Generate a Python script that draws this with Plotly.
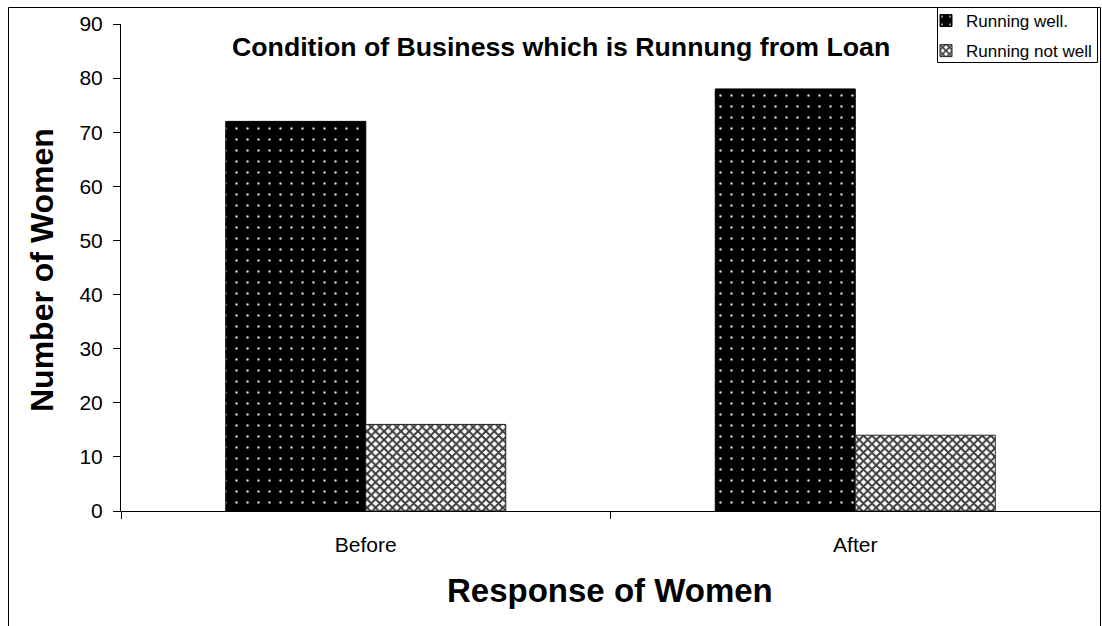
import plotly.graph_objects as go

# Survey counts: condition of the business run from the loan
categories = ["Before", "After"]
running_well = [72, 78]
running_not_well = [16, 14]
series_names = ["Running well.", "Running not well"]
y_ticks = list(range(0, 91, 10))

W, H = 1102, 626
L, R, T, B = 121, 2, 24, 115
PW, PH = W - L - R, H - T - B


def px_x(x):
    return (x - L) / PW


def px_y(y):
    return (H - B - y) / PH


FONT = "Arial, Liberation Sans, sans-serif"

fig = go.Figure()
fig.add_trace(go.Bar(
    x=categories, y=running_well, name=series_names[0], legendgroup="a",
    marker=dict(color="black", line=dict(color="black", width=1),
                pattern=dict(shape=".", bgcolor="black", fgcolor="#d0d0d0",
                             size=11, solidity=0.04, fillmode="replace")),
))
fig.add_trace(go.Bar(
    x=categories, y=running_not_well, name=series_names[1], legendgroup="b",
    marker=dict(color="white", line=dict(color="#222", width=1),
                pattern=dict(shape="x", bgcolor="white", fgcolor="#3a3a3a",
                             size=6, solidity=0.55, fillmode="replace")),
))

fig.update_layout(
    width=W, height=H,
    margin=dict(l=L, r=R, t=T, b=B, pad=0),
    paper_bgcolor="white", plot_bgcolor="white",
    font=dict(family=FONT, color="black"),
    barmode="group", bargap=0.428, bargroupgap=0,
    showlegend=True,
    legend=dict(
        x=px_x(926), y=px_y(3), xanchor="left", yanchor="top",
        bgcolor="rgba(0,0,0,0)", borderwidth=0,
        font=dict(size=17, family=FONT), tracegroupgap=5,
    ),
    xaxis=dict(
        type="category", showline=True, linecolor="black", linewidth=1,
        ticks="outside", tickson="boundaries", ticklen=7, tickcolor="black",
        tickfont=dict(size=21), showgrid=False, zeroline=False,
        ticklabelstandoff=15,
    ),
    yaxis=dict(
        range=[0, 90], tickvals=y_ticks, showline=True, linecolor="black",
        linewidth=1, ticks="outside", ticklen=7, tickcolor="black",
        tickfont=dict(size=21), showgrid=False, zeroline=False,
        ticklabelstandoff=6,
    ),
    shapes=[
        # outer chart frame
        dict(type="rect", xref="paper", yref="paper",
             x0=px_x(8.5), x1=px_x(1100.5), y0=px_y(640), y1=px_y(7.5),
             line=dict(color="black", width=1), fillcolor="rgba(0,0,0,0)"),
        # legend box
        dict(type="rect", xref="paper", yref="paper",
             x0=px_x(937.5), x1=px_x(1097.5), y0=px_y(62.5), y1=px_y(7.5),
             line=dict(color="black", width=1), fillcolor="white"),
    ],
    annotations=[
        dict(text="<b>Condition of Business which is Runnung from Loan</b>",
             xref="paper", yref="paper", x=px_x(561), y=px_y(47),
             xanchor="center", yanchor="middle", showarrow=False,
             font=dict(size=26.7, family=FONT)),
        dict(text="<b>Number of Women</b>", textangle=-90,
             xref="paper", yref="paper", x=px_x(42), y=px_y(270),
             xanchor="center", yanchor="middle", showarrow=False,
             font=dict(size=32, family=FONT)),
        dict(text="<b>Response of Women</b>",
             xref="paper", yref="paper", x=px_x(610), y=px_y(590),
             xanchor="center", yanchor="middle", showarrow=False,
             font=dict(size=33, family=FONT)),
    ],
)

fig.write_html("out.html")
